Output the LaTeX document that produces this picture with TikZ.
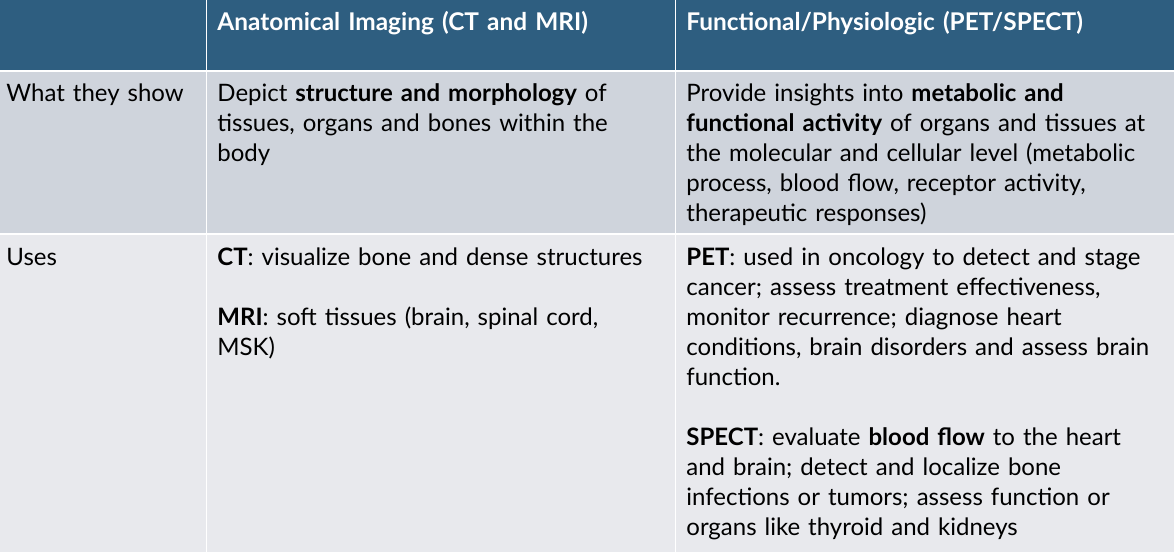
\documentclass[tikz,border=0pt]{standalone}
\usepackage{fontspec}
\setmainfont{Lato}
\definecolor{hdr}{HTML}{2E5E80}
\definecolor{rowA}{HTML}{CFD4DC}
\definecolor{rowB}{HTML}{E8E9ED}
\begin{document}
\begin{tikzpicture}[x=0.5pt,y=-0.5pt,
  cell/.style={anchor=north west,inner sep=0pt,align=left,text width=#1,
    font=\fontsize{12}{15}\selectfont\strut},
  hcell/.style={cell=#1,text=white,font=\fontsize{12.2}{15}\selectfont\bfseries\strut}]
\useasboundingbox (0,0) rectangle (1175,552);
\fill[white] (0,0) rectangle (1175,552);
% header
\fill[hdr] (0,0) rectangle (205.5,70);
\fill[hdr] (207,0) rectangle (674.5,70);
\fill[hdr] (676,0) rectangle (1174,70);
% row 1
\fill[rowA] (0,72) rectangle (205.5,233);
\fill[rowA] (207,72) rectangle (674.5,233);
\fill[rowA] (676,72) rectangle (1174,233);
% row 2
\fill[rowB] (0,235) rectangle (205.5,552);
\fill[rowB] (207,235) rectangle (674.5,552);
\fill[rowB] (676,235) rectangle (1174,552);
% header text
\node[hcell=230pt] (h2) at (217,9) {Anatomical Imaging (CT and MRI)};
\node[hcell=244pt] (h3) at (686,9) {Functional/Physiologic (PET/SPECT)};
% row 1
\node[cell=98pt] (r1a) at (6,80) {What they show};
\node[cell=230pt] (r1b) at (217,80) {Depict \textbf{structure and morphology} of\\tissues, organs and bones within the\\body};
\node[cell=244pt] (r1c) at (686,80) {Provide insights into \textbf{metabolic and}\\\textbf{functional activity} of organs and tissues at\\the molecular and cellular level (metabolic\\process, blood flow, receptor activity,\\therapeutic responses)};
% row 2
\node[cell=98pt] (r2a) at (6,244) {Uses};
\node[cell=230pt] (r2b) at (217,244) {\textbf{CT}: visualize bone and dense structures\\[15pt]\textbf{MRI}: soft tissues (brain, spinal cord,\\MSK)};
\node[cell=244pt] (r2c) at (686,244) {\textbf{PET}: used in oncology to detect and stage\\cancer; assess treatment effectiveness,\\monitor recurrence; diagnose heart\\conditions, brain disorders and assess brain\\function.\\[15pt]\textbf{SPECT}: evaluate \textbf{blood flow} to the heart\\and brain; detect and localize bone\\infections or tumors; assess function or\\organs like thyroid and kidneys};
\end{tikzpicture}
\end{document}
